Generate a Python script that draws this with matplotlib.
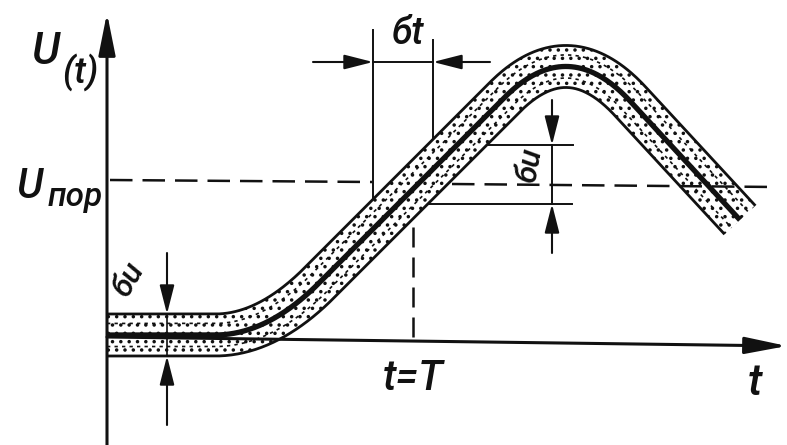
import numpy as np
import matplotlib
matplotlib.use('Agg')
import matplotlib.pyplot as plt
from matplotlib.path import Path

# --- signal band: centre line in (t, U) drawing units ---
CENTER_VERTS = [(0, 2), (108, 2), (158, 2), (208, 50), (398, 240),
                (461, 303), (523, 236), (633, 117)]
CENTER_CODES = [Path.MOVETO, Path.LINETO, Path.CURVE3, Path.CURVE3,
                Path.LINETO, Path.CURVE3, Path.CURVE3, Path.LINETO]
BAND_HALF = 21          # noise half-width, perpendicular to the curve

# threshold level U_пор (two dashed pieces, either side of the crossing)
THR_LEFT = [(3, 157), (265, 155)]
THR_RIGHT = [(345, 153), (668, 150)]

T_MARK = 306            # t = T
T_DASH_TOP = 150

# sigma_t dimension
SIGT_X = [266, 326]
SIGT_TOP = [307, 297]
SIGT_BOT = [137, 185]
SIGT_Y = 275
SIGT_TAILS = [206, 383]

# sigma_u at the crossing (right) and on the flat part (left)
SIGU_R_X = 445
SIGU_R_LEVELS = [192, 133]
SIGU_R_LINES_FROM = [363, 303]
SIGU_R_LINES_TO = [466, 465]
SIGU_R_TAILS = [237, 84]

SIGU_L_X = 60
SIGU_L_LEVELS = [23, -19]
SIGU_L_TAILS = [84, -88]

AX_X_END = (680, -9)
AX_Y_END = (0, 324)
AX_Y_START = (0, -108)

INK = "#111111"
FONT = dict(family=["Roboto", "DejaVu Sans"], style="italic",
            weight="medium", color=INK)


def sample_path(path, n=80):
    pts = []
    for seg, _ in path.iter_bezier():
        p = seg(np.linspace(0, 1, n))
        if pts:
            p = p[1:]
        pts.append(p)
    return np.vstack(pts)


def offset(pts, w):
    d = np.gradient(pts, axis=0)
    d /= np.hypot(d[:, 0], d[:, 1])[:, None]
    nrm = np.column_stack([-d[:, 1], d[:, 0]])
    return pts + w * nrm


def arrow(ax, tail, tip, lw=1.5, hl=1.1, hw=0.28, ms=16):
    ax.annotate("", xy=tip, xytext=tail,
                arrowprops=dict(arrowstyle=f"-|>,head_length={hl},head_width={hw}",
                                lw=lw, color=INK, mutation_scale=ms,
                                shrinkA=0, shrinkB=0), zorder=6)


plt.rcParams['hatch.linewidth'] = 1.3
fig = plt.figure(figsize=(7.87, 4.45), dpi=100)
ax = fig.add_axes([0, 0, 1, 1])
ax.set_xlim(-107, 680)
ax.set_ylim(-108, 337)
ax.axis('off')

# axes
arrow(ax, AX_Y_START, AX_Y_END, lw=2.2, hl=1.6, hw=0.32, ms=16)
arrow(ax, (0, 0), AX_X_END, lw=2.2, hl=1.6, hw=0.32, ms=16)

# threshold and t=T
dash = (0, (9, 4))
xs, ys = zip(*THR_LEFT)
ax.plot(xs, ys, color=INK, lw=1.8, linestyle=dash, zorder=1)
ax.plot([T_MARK, T_MARK], [0, T_DASH_TOP], color=INK, lw=1.8,
        linestyle=(0, (8, 4)), zorder=1)

# sigma_t extension lines (run under the band)
for x, top, bot in zip(SIGT_X, SIGT_TOP, SIGT_BOT):
    ax.plot([x, x], [bot, top], color=INK, lw=1.4, zorder=1)
ax.plot(SIGT_X, [SIGT_Y, SIGT_Y], color=INK, lw=1.4, zorder=1)
arrow(ax, (SIGT_TAILS[0], SIGT_Y), (SIGT_X[0], SIGT_Y))
arrow(ax, (SIGT_TAILS[1], SIGT_Y), (SIGT_X[1], SIGT_Y))

# sigma_u extension lines at the crossing
for lev, x0, x1 in zip(SIGU_R_LEVELS, SIGU_R_LINES_FROM, SIGU_R_LINES_TO):
    ax.plot([x0, x1], [lev, lev], color=INK, lw=1.4, zorder=1)
ax.plot([SIGU_R_X, SIGU_R_X], SIGU_R_LEVELS, color=INK, lw=1.4, zorder=1)
for tail, lev in zip(SIGU_R_TAILS, SIGU_R_LEVELS):
    arrow(ax, (SIGU_R_X, tail), (SIGU_R_X, lev))

# the band: white fill, fine dots, scalloped middle row, dark outlines
center = sample_path(Path(CENTER_VERTS, CENTER_CODES))
for side in (1, -1):
    edge = offset(center, side * BAND_HALF)
    poly = np.vstack([edge, center[::-1]])
    ax.fill(poly[:, 0], poly[:, 1], facecolor="white", edgecolor=INK,
            hatch="..", lw=0, zorder=3)
    mid = offset(center, side * BAND_HALF * 0.55)
    ax.plot(mid[:, 0], mid[:, 1], color=INK, lw=1.2,
            linestyle=(0, (2.0, 2.5)), zorder=3.5)
    ax.plot(edge[:, 0], edge[:, 1], color=INK, lw=2.0, zorder=4,
            solid_capstyle="butt")
ax.plot(center[:, 0], center[:, 1], color=INK, lw=3.8, zorder=4,
        solid_capstyle="butt")

# right threshold piece is drawn over the falling slope
xs, ys = zip(*THR_RIGHT)
ax.plot(xs, ys, color=INK, lw=1.8, linestyle=dash, zorder=5)

# sigma_u on the flat part
ax.plot([SIGU_L_X, SIGU_L_X], SIGU_L_LEVELS, color=INK, lw=1.2, zorder=5)
for tail, lev in zip(SIGU_L_TAILS, SIGU_L_LEVELS):
    arrow(ax, (SIGU_L_X, tail), (SIGU_L_X, lev))

# labels
ax.text(-62, 285, "U", fontsize=32, ha="center", va="center", **FONT)
ax.text(-27, 265, "(t)", fontsize=26, ha="center", va="center", **FONT)
ax.text(-77, 151, "U", fontsize=30, ha="center", va="center", **FONT)
ax.text(-32, 140, "пор", fontsize=24, ha="center", va="center", **FONT)
ax.text(301, 304, "бt", fontsize=27, ha="center", va="center", **FONT)
ax.text(306, -41, "t=T", fontsize=30, ha="center", va="center", **FONT)
ax.text(648, -46, "t", fontsize=32, ha="center", va="center", **FONT)
ax.text(21, 57, "бu", fontsize=23, ha="center", va="center", rotation=60, **FONT)
ax.text(423, 172, "бu", fontsize=23, ha="center", va="center", rotation=80, **FONT)

fig.savefig("out.png", dpi=100, facecolor="white")
